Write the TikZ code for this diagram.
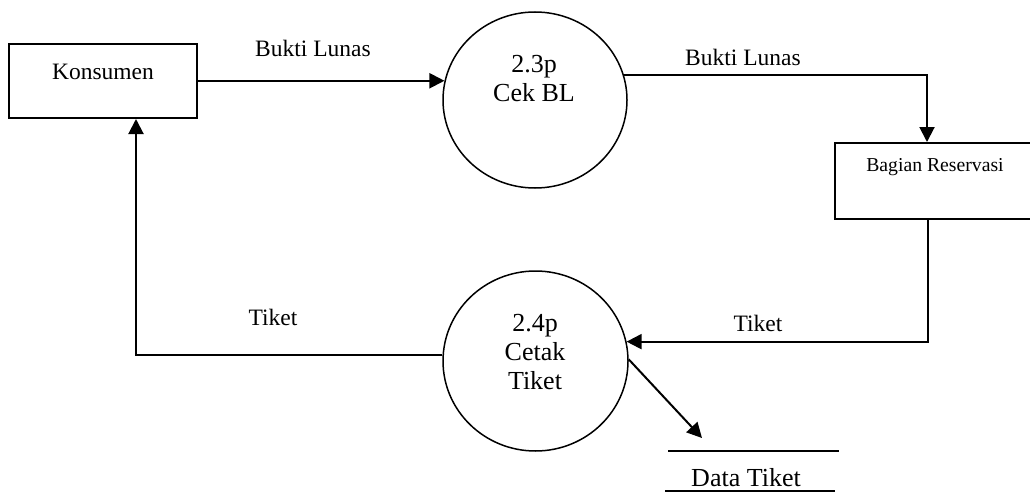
\documentclass[tikz,border=0pt]{standalone}
\usepackage{fontspec}
\setmainfont{Liberation Serif}
\usetikzlibrary{arrows.meta,shapes.geometric,calc}

\tikzset{
  entity/.style={draw, line width=2pt, rectangle, inner sep=0pt},
  proc/.style={draw, line width=1.5pt, ellipse, inner sep=0pt},
  flow/.style={line width=2pt, -{Triangle[length=15pt,width=15pt]}},
  plain/.style={line width=2pt},
  lbl/.style={font=\fontsize{23.5}{27}\selectfont, inner sep=0pt},
  ptext/.style={font=\fontsize{26}{29}\selectfont, align=center, inner sep=0pt},
  smalltext/.style={font=\fontsize{19.7}{23}\selectfont, inner sep=0pt}
}

\begin{document}
\begin{tikzpicture}[x=1pt,y=-1pt]
\useasboundingbox (0,0) rectangle (1030,495);

% external entities
\node[entity, minimum width=188pt, minimum height=74pt] (kons) at (103,81) {};
\node[lbl] (konsText) at (103,72) {Konsumen};

\node[entity, minimum width=200pt, minimum height=76pt] (res) at (935,181) {};
\node[smalltext] (resText) at (935,167) {Bagian Reservasi};

% processes
\node[proc, minimum width=184pt, minimum height=176pt] (p23) at (535,100) {};
\node[ptext] (p23Text) at (534,79) {2.3p\\Cek BL};

\node[proc, minimum width=185pt, minimum height=180pt] (p24) at (535.5,361) {};
\node[ptext] (p24Text) at (535,352) {2.4p\\Cetak\\Tiket};

% data store
\coordinate (dsTL) at (668,451);
\coordinate (dsTR) at (839,451);
\coordinate (dsBL) at (665,491);
\coordinate (dsBR) at (835,491);
\draw[plain] (dsTL) -- (dsTR);
\draw[plain] (dsBL) -- (dsBR);
\node[ptext] (dsText) at (746,478) {Data Tiket};
\coordinate (dsIn) at (702,438);

% connection points on the entity boxes
\coordinate (resTop) at ($(res.north west)+(93,0)$);
\coordinate (resBot) at ($(res.south west)+(94,0)$);
\coordinate (konsBot) at ($(kons.south west)+(128,0)$);

% data flows
\draw[flow] (p23.168 -| kons.east) -- (p23.168);
\node[lbl] (l1) at (313,48) {Bukti Lunas};

\draw[flow] (p23.16) -| (resTop);
\node[lbl] (l2) at (743,57) {Bukti Lunas};

\draw[flow] (resBot) |- (p24.12);
\node[lbl] (l3) at (758,323) {Tiket};

\draw[flow] (p24.176) -| (konsBot);
\node[lbl] (l4) at (273,317) {Tiket};

\draw[flow] (p24.1) -- (dsIn);
\end{tikzpicture}
\end{document}
